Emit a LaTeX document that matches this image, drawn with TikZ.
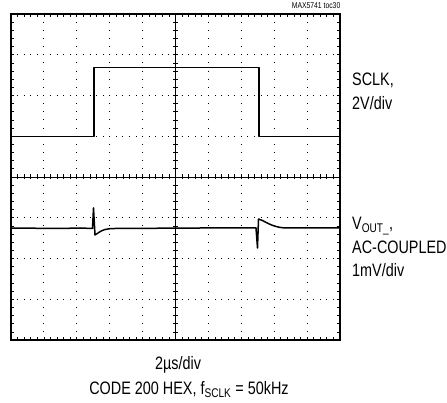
\documentclass[tikz,border=0pt]{standalone}
\usepackage{fontspec}
\setmainfont{Liberation Sans}[FakeStretch=0.8]
\usetikzlibrary{positioning}
\tikzset{
    scopeframe/.style={draw, line width=1.4pt},
    gridh/.style={line width=0.9pt, dash pattern=on 0.9pt off 5.68pt, dash phase=0.45pt},
    gridv/.style={line width=0.9pt, dash pattern=on 0.9pt off 7.25pt, dash phase=0.45pt},
    axis/.style={line width=0.9pt},
    tick/.style={line width=0.7pt},
    trace/.style={line width=1.5pt, line join=round},
    chantext/.style={font=\fontsize{18}{22}\selectfont, inner sep=0pt, anchor=base west},
    captext/.style={font=\fontsize{18}{22}\selectfont, inner sep=0pt, anchor=base}
}

\begin{document}
\begin{tikzpicture}[x=1pt, y=-1pt]
    \useasboundingbox (0,0) rectangle (447,403);
    % Grid
    \foreach \i in {1,...,9}
        \draw[gridv] ({11+\i*32.9},14) -- ({11+\i*32.9},340);
    \foreach \j in {1,...,7}
        \draw[gridh] (11,{14+\j*40.75}) -- (340,{14+\j*40.75});
    % Center axes with minor ticks
    \draw[axis] (175.5,14) -- (175.5,340);
    \draw[axis] (11,177) -- (340,177);
    \foreach \k in {1,...,49} {
        \draw[tick] ({11+\k*6.58},174.5) -- ++(0,5);
        \draw[tick] ({11+\k*6.58},14) -- ++(0,3);
        \draw[tick] ({11+\k*6.58},340) -- ++(0,-3);
    }
    \foreach \k in {1,...,39} {
        \draw[tick] (173,{14+\k*8.15}) -- ++(5,0);
        \draw[tick] (11,{14+\k*8.15}) -- ++(3,0);
        \draw[tick] (340,{14+\k*8.15}) -- ++(-3,0);
    }
    % Frame
    \draw[scopeframe] (11,14) rectangle (340,340);

    % Traces
    \draw[trace] (11,136.5) -- (94,136.5) -- (94,67.5) -- (259,67.5)
        -- (259,136.5) -- (340,136.5);
    \draw[trace] (11,228) -- (60,228.5) -- (80,228) -- (92.5,228.5) -- (93.5,208)
        -- (95,235) -- (98,233) .. controls (102,230) and (106,228.5) .. (115,228.5)
        -- (200,228) -- (256,228) -- (257.5,248) -- (258.5,219)
        .. controls (264,220) and (270,227) .. (285,228) -- (340,228);

    % Labels
    \node[font=\fontsize{8.5}{10}\selectfont, inner sep=0pt, anchor=base east] (tag) at (340.5,9) {MAX5741 toc30};
    \node[chantext] (sclk) at (352,86) {SCLK,};
    \node[chantext] (sclkdiv) at (352,110) {2V/div};
    \node[chantext] (vout) at (352,230) {V\textsubscript{OUT\_},};
    \node[chantext] (accoup) at (352,254) {AC-COUPLED};
    \node[chantext] (voutdiv) at (352,277) {1mV/div};
    \node[captext] (tdiv) at (178,369.5) {2µs/div};
    \node[captext] (code) at (189,394.5) {CODE 200 HEX, f\textsubscript{SCLK} = 50kHz};
\end{tikzpicture}
\end{document}
